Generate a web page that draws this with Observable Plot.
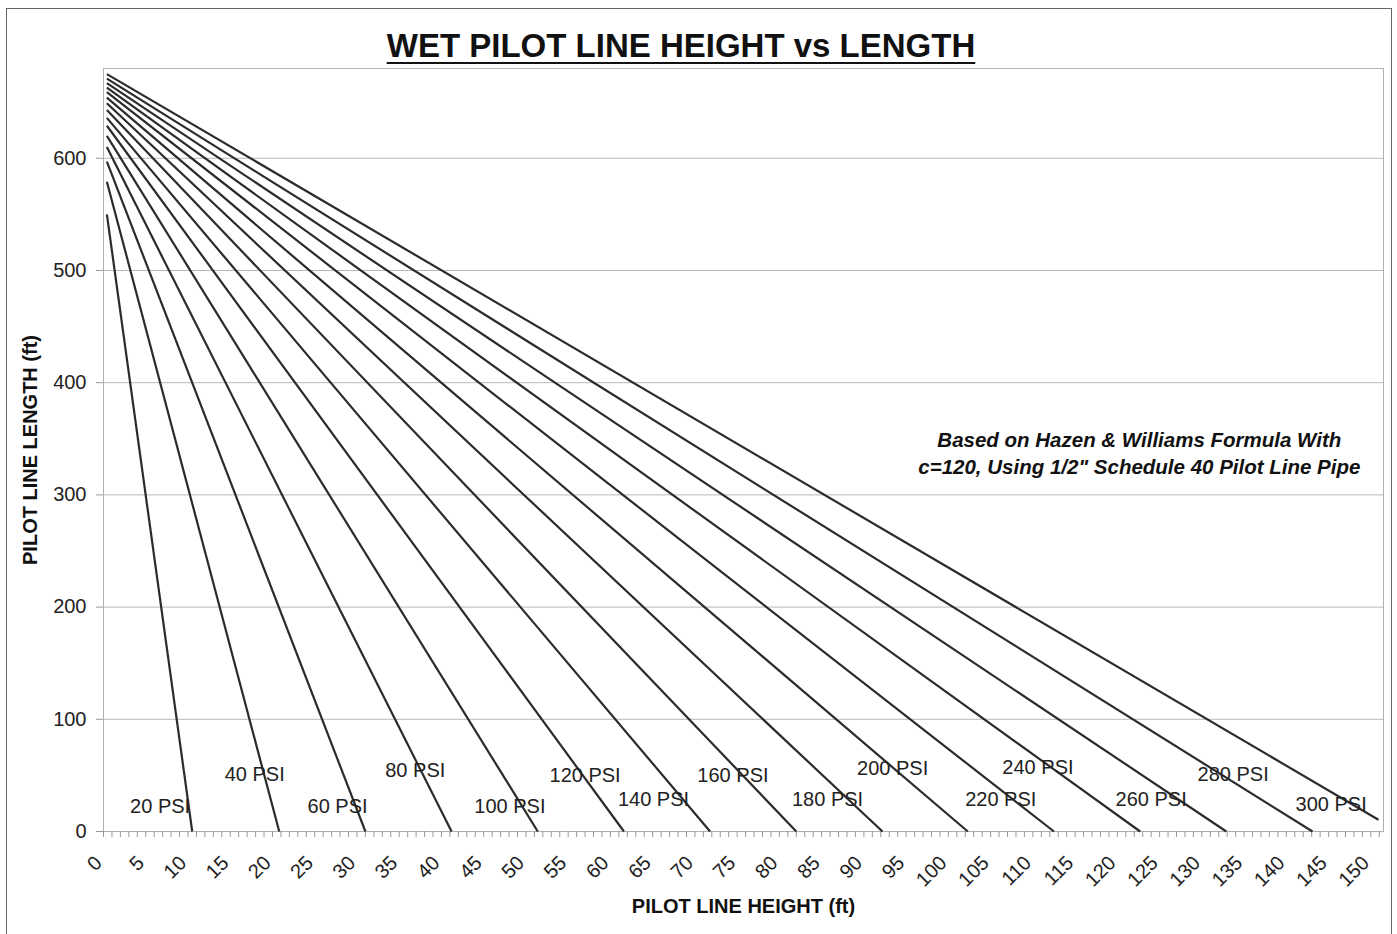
<!DOCTYPE html>
<html>
<head>
<meta charset="utf-8">
<script src="https://cdn.jsdelivr.net/npm/d3@7"></script>
<script src="https://cdn.jsdelivr.net/npm/@observablehq/plot@0.6"></script>
<style>
  html, body { margin: 0; padding: 0; background: #fff; }
  body { width: 1397px; height: 934px; position: relative; overflow: hidden;
         font-family: "Liberation Sans", Arial, sans-serif; }
  #border { position: absolute; left: 6px; top: 8px; width: 1386px; height: 940px;
            border: 1px solid #666; box-sizing: border-box; pointer-events: none; }
  #title { position: relative; height: 60px; width: 1397px; }
  #title span { position: absolute; left: 0; width: 1362px; top: 29px; text-align: center;
                font-size: 33px; line-height: 33px; font-weight: bold; color: #111;
                text-decoration: underline; text-decoration-thickness: 2px; text-underline-offset: 5px; }
  #chart svg { display: block; }
</style>
</head>
<body>
<div id="border"></div>
<div id="title"><span>WET PILOT LINE HEIGHT vs LENGTH</span></div>
<div id="chart"></div>
<script>
// ---- data ----
const psi = [20, 40, 60, 80, 100, 120, 140, 160, 180, 200, 220, 240, 260, 280, 300];
const startHeight = 0.4; // each line starts just right of 0 ft height
const startLength = [550, 579, 597, 610, 620, 629, 636, 643, 649, 654, 659, 663, 667, 671, 675];
const endHeight = [10.5, 20.8, 31.0, 41.2, 51.4, 61.6, 71.8, 82.0, 92.2, 102.3, 112.5, 122.7, 132.9, 143.1, 150.9];
const endLength = [0, 0, 0, 0, 0, 0, 0, 0, 0, 0, 0, 0, 0, 0, 10.5];

const labelX = [6.7, 17.9, 27.7, 36.9, 48.1, 57.0, 65.1, 74.5, 85.7, 93.4, 106.2, 110.6, 124.0, 133.7, 145.3];
const labelY = [22, 51, 22, 54, 22, 50, 28, 50, 28, 56, 28, 57, 28, 51, 24];

const xTicks = d3.range(0, 151, 5);
const xMinorTicks = d3.range(0, 152, 1);
const yTicks = [0, 100, 200, 300, 400, 500, 600];

const noteText = ["Based on Hazen & Williams Formula With", "c=120, Using 1/2\" Schedule 40 Pilot Line Pipe"];
const noteX = 122.6;
const noteY = 338;

const xLabel = "PILOT LINE HEIGHT (ft)";
const yLabel = "PILOT LINE LENGTH (ft)";

// ---- tables built from arrays ----
const series = psi.map((p, i) => ({
  psi: p, x1: startHeight, y1: startLength[i], x2: endHeight[i], y2: endLength[i]
}));
const labels = psi.map((p, i) => ({ text: `${p} PSI`, x: labelX[i], y: labelY[i] }));

const font = "'Liberation Sans', Arial, sans-serif";

const chart = Plot.plot({
  width: 1397,
  height: 874,
  marginLeft: 103,
  marginRight: 14,
  marginTop: 8,
  marginBottom: 103,
  x: { domain: [0, 151.5] },
  y: { domain: [0, 680] },
  style: { fontFamily: font, fontSize: "20px", color: "#222", background: "transparent" },
  marks: [
    Plot.gridY(yTicks.filter(d => d > 0), { stroke: "#b8b8b8", strokeOpacity: 1, strokeWidth: 1 }),
    Plot.frame({ stroke: "#b0b0b0" }),
    Plot.axisY({ ticks: yTicks, tickSize: 7, tickPadding: 10, label: null, stroke: "#999", fontSize: 20 }),
    Plot.axisX({ ticks: xMinorTicks, tickSize: 6, tickFormat: () => "", label: null, stroke: "#999" }),
    Plot.axisX({ ticks: xTicks, tickSize: 0, tickPadding: 16, tickRotate: -45, label: null, fontSize: 20, dx: -5, dy: 12 }),
    Plot.link(series, { x1: "x1", y1: "y1", x2: "x2", y2: "y2", stroke: "#2b2b2b", strokeWidth: 2.2 }),
    Plot.text(labels, { x: "x", y: "y", text: "text", fontSize: 20, fill: "#222" }),
    Plot.text([noteText.join("\n")], {
      x: noteX, y: noteY, text: d => d, fontSize: 20.5, fontWeight: "bold", fontStyle: "italic",
      lineHeight: 1.3, fill: "#111"
    }),
    Plot.text([xLabel], { frameAnchor: "bottom", dy: 81, text: d => d, fontSize: 20, fontWeight: "bold", fill: "#111" }),
    Plot.text([yLabel], { frameAnchor: "left", textAnchor: "middle", dx: -73, rotate: -90, text: d => d, fontSize: 20, fontWeight: "bold", fill: "#111" })
  ]
});

document.getElementById("chart").appendChild(chart);
</script>
</body>
</html>
